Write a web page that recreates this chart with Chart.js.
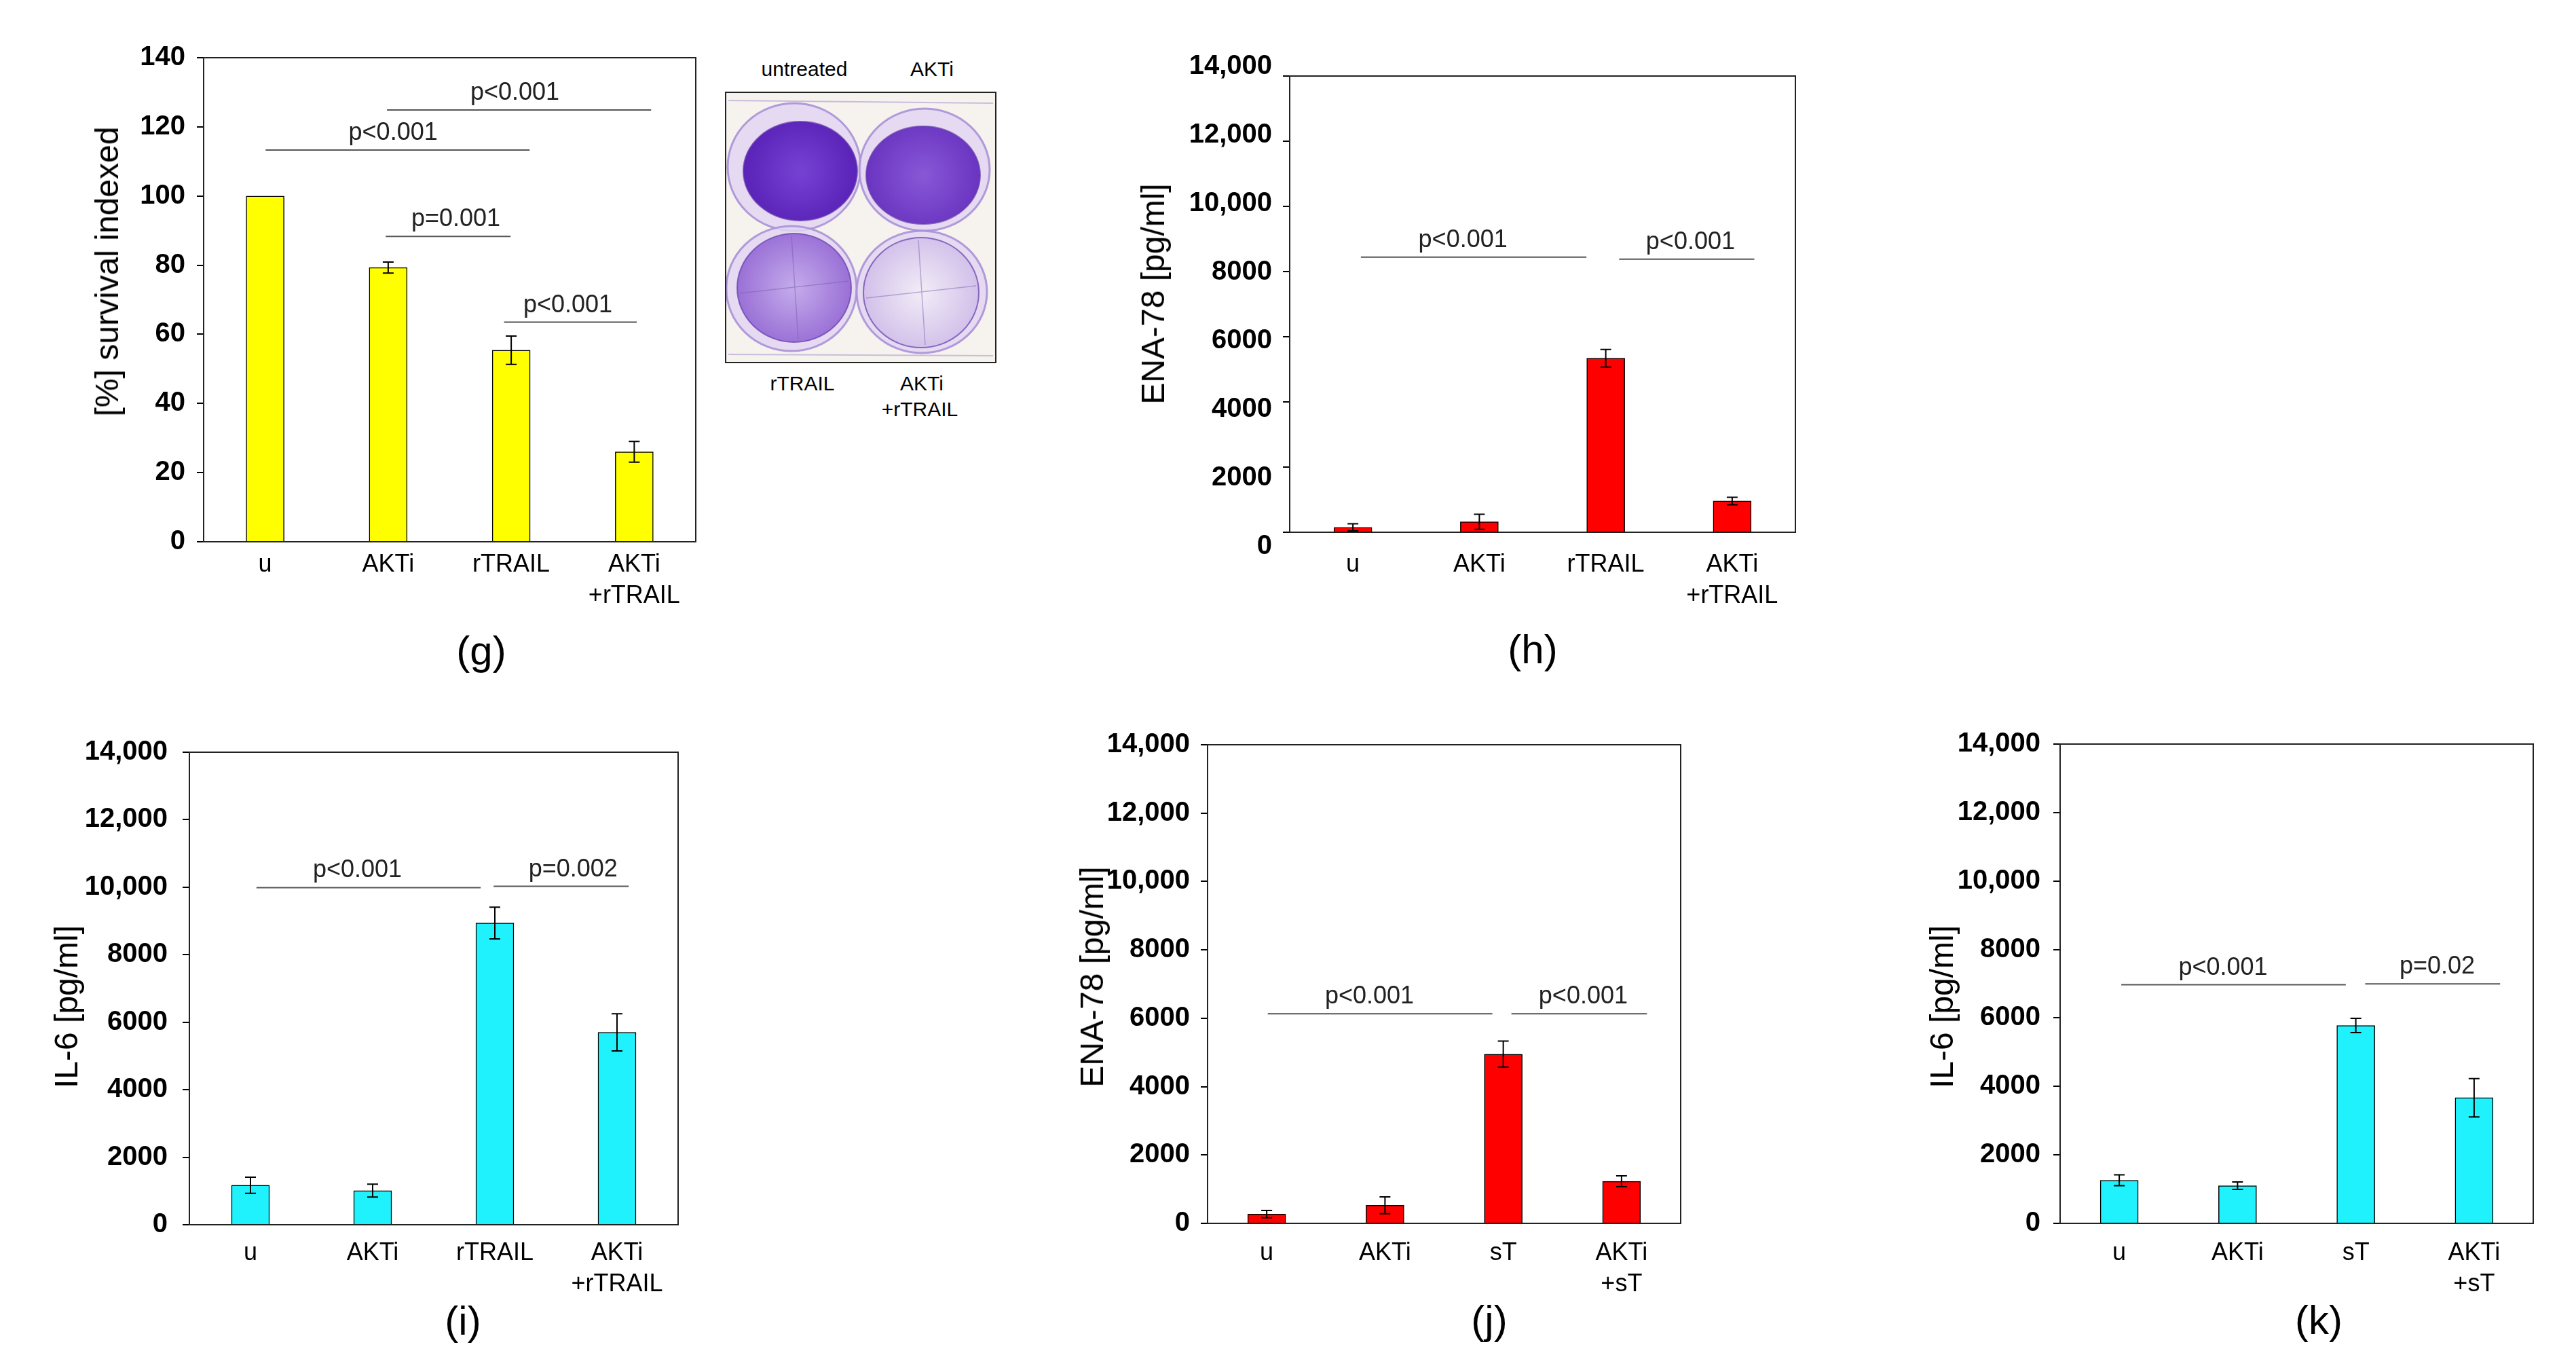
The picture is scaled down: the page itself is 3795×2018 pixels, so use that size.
<!DOCTYPE html>
<html><head><meta charset="utf-8">
<script src="https://cdn.jsdelivr.net/npm/chart.js@4.4.1/dist/chart.umd.min.js"></script>
<style>
html,body{margin:0;padding:0;background:#fff;width:3795px;height:2018px;overflow:hidden;font-family:"Liberation Sans",Arial,sans-serif;}
canvas{position:absolute;}
.txt{position:absolute;white-space:nowrap;transform:translate(-50%,-50%);color:#000;line-height:1;}
.ytitle{position:absolute;white-space:nowrap;transform:translate(-50%,-50%) rotate(-90deg);font-size:48px;line-height:1;color:#000;}
</style></head><body>
<script>
// ---------------- data ----------------
const catsTrail = ['u', 'AKTi', 'rTRAIL', ['AKTi', '+rTRAIL']];
const catsST = ['u', 'AKTi', 'sT', ['AKTi', '+sT']];

const survivalG = [100, 79.3, 55.4, 26.0];
const survivalErrG = [0, 1.6, 4.1, 3.0];

const ena78H = [150, 320, 5340, 960];
const ena78ErrH = [110, 230, 270, 115];

const il6I = [1170, 1010, 8940, 5700];
const il6ErrI = [240, 190, 470, 550];

const ena78J = [270, 530, 4950, 1230];
const ena78ErrJ = [105, 245, 380, 160];

const il6K = [1260, 1100, 5780, 3670];
const il6ErrK = [160, 110, 210, 560];

const ticksPct = [0, 20, 40, 60, 80, 100, 120, 140];
const ticksPg = [0, 2000, 4000, 6000, 8000, 10000, 12000, 14000];

// significance brackets: [from (category units), to, y value, label centre, label]
const sigG = [[0.004, 2.15, 113.3, 1.04, 'p<0.001'], [0.99, 3.137, 124.9, 2.03, 'p<0.001'],
              [0.98, 1.995, 88.3, 1.55, 'p=0.001'], [1.942, 3.02, 63.5, 2.46, 'p<0.001']];
const sigH = [[0.063, 1.847, 8443, 0.87, 'p<0.001'], [2.106, 3.175, 8380, 2.67, 'p<0.001']];
const sigI = [[0.049, 1.884, 9988, 0.875, 'p<0.001'], [1.99, 3.096, 10025, 2.64, 'p=0.002']];
const sigJ = [[0.009, 1.908, 6131, 0.869, 'p<0.001'], [2.069, 3.215, 6131, 2.676, 'p<0.001']];
const sigK = [[0.017, 1.915, 6969, 0.877, 'p<0.001'], [2.079, 3.22, 6993, 2.688, 'p=0.02']];

const yTitles = ['[%] survival indexed', 'ENA-78 [pg/ml]', 'IL-6 [pg/ml]', 'ENA-78 [pg/ml]', 'IL-6 [pg/ml]'];
const panelLetters = ['(g)', '(h)', '(i)', '(j)', '(k)'];
const plateLabels = ['untreated', 'AKTi', 'rTRAIL', 'AKTi', '+rTRAIL'];

// ---------------- layout ----------------
const FONT = '"Liberation Sans", Arial, sans-serif';
const YELLOW = '#ffff00', RED = '#ff0000', CYAN = '#1ff2fc';
const panels = [
  {L: 300, T: 85, R: 1025, B: 798, cats: catsTrail, vals: survivalG, errs: survivalErrG, color: YELLOW, max: 140, ticks: ticksPct, sig: sigG, yPad: 17, xPad: 11,
   title: [158, 400], letter: [709, 959]},
  {L: 1900, T: 112, R: 2645, B: 784, cats: catsTrail, vals: ena78H, errs: ena78ErrH, color: RED, max: 14000, ticks: ticksPg, sig: sigH, yPad: 14, xPad: 25,
   labelRange: [406, 13713], title: [1699, 433], letter: [2258, 957]},
  {L: 279, T: 1108, R: 999, B: 1804, cats: catsTrail, vals: il6I, errs: il6ErrI, color: CYAN, max: 14000, ticks: ticksPg, sig: sigI, yPad: 22, xPad: 19,
   title: [98, 1483], letter: [682, 1946]},
  {L: 1779, T: 1097, R: 2476, B: 1802, cats: catsST, vals: ena78J, errs: ena78ErrJ, color: RED, max: 14000, ticks: ticksPg, sig: sigJ, yPad: 16, xPad: 21,
   title: [1609, 1439], letter: [2194, 1945]},
  {L: 3035, T: 1096, R: 3732, B: 1802, cats: catsST, vals: il6K, errs: il6ErrK, color: CYAN, max: 14000, ticks: ticksPg, sig: sigK, yPad: 19, xPad: 21,
   title: [2861, 1483], letter: [3416, 1945]}
];

function fmtTick(v) { return v >= 10000 ? v.toLocaleString('en-US') : String(v); }

const errorBarPlugin = {
  id: 'errbars',
  afterDatasetsDraw(chart) {
    const ds = chart.data.datasets[0];
    const meta = chart.getDatasetMeta(0);
    const y = chart.scales.y, ctx = chart.ctx;
    ctx.save();
    ctx.strokeStyle = '#000'; ctx.lineWidth = 2;
    meta.data.forEach((bar, i) => {
      const e = ds.errors[i];
      if (!e) return;
      const v = ds.data[i];
      const yt = y.getPixelForValue(v + e), yb = y.getPixelForValue(v - e);
      const x = bar.x, c = 8;
      ctx.beginPath();
      ctx.moveTo(x, yt); ctx.lineTo(x, yb);
      ctx.moveTo(x - c, yt); ctx.lineTo(x + c, yt);
      ctx.moveTo(x - c, yb); ctx.lineTo(x + c, yb);
      ctx.stroke();
    });
    ctx.restore();
  }
};

const sigTextPlugin = {
  id: 'sigtext',
  afterDatasetsDraw(chart) {
    const xp = chart.scales.xp, y = chart.scales.y, ctx = chart.ctx;
    ctx.save();
    ctx.fillStyle = '#222';
    ctx.font = '36px ' + FONT;
    ctx.textAlign = 'center';
    ctx.textBaseline = 'alphabetic';
    chart.data.datasets.forEach(ds => {
      if (!ds.sigLabel) return;
      ctx.fillText(ds.sigLabel, xp.getPixelForValue(ds.labelX), y.getPixelForValue(ds.data[0].y) - 15);
    });
    ctx.restore();
  }
};

const framePlugin = {
  id: 'frame',
  afterDraw(chart) {
    const a = chart.chartArea, ctx = chart.ctx;
    ctx.save();
    ctx.strokeStyle = '#222'; ctx.lineWidth = 2;
    ctx.strokeRect(a.left, a.top, a.right - a.left, a.bottom - a.top);
    ctx.restore();
  }
};

const PADL = 200, PADT = 60, PADR = 20, XH = 150;

panels.forEach((p, idx) => {
  const cv = document.createElement('canvas');
  const w = p.R - p.L + PADL + PADR, h = p.B - p.T + PADT + XH;
  cv.width = w; cv.height = h;
  cv.style.left = (p.L - PADL) + 'px';
  cv.style.top = (p.T - PADT) + 'px';
  cv.style.width = w + 'px'; cv.style.height = h + 'px';
  document.body.appendChild(cv);

  const datasets = [{
    type: 'bar',
    data: p.vals,
    errors: p.errs,
    xAxisID: 'x', yAxisID: 'y',
    backgroundColor: p.color,
    borderColor: '#000',
    borderWidth: 1.5,
    borderSkipped: 'bottom',
    barThickness: 56,
    grouped: false
  }];
  p.sig.forEach(s => {
    datasets.push({
      type: 'line',
      data: [{x: s[0], y: s[2]}, {x: s[1], y: s[2]}],
      xAxisID: 'xp', yAxisID: 'y',
      borderColor: '#555', borderWidth: 2,
      pointRadius: 0, fill: false,
      sigLabel: s[4], labelX: s[3]
    });
  });

  const labelsOnMain = !p.labelRange;
  const scales = {
    x: {
      type: 'category', offset: true,
      grid: {display: false, drawTicks: false},
      border: {display: true, color: '#000', width: 2},
      ticks: {font: {size: 36, family: FONT, lineHeight: 1.27}, color: '#000', padding: p.xPad, maxRotation: 0, autoSkip: false},
      afterFit(s) { s.height = XH; }
    },
    xp: {type: 'linear', display: false, offset: false, grid: {offset: false}, bounds: 'data', min: -0.5, max: 3.5},
    y: {
      type: 'linear', min: 0, max: p.max,
      afterBuildTicks(s) { s.ticks = p.ticks.map(v => ({value: v})); },
      grid: {display: true, drawOnChartArea: false, drawTicks: true, tickLength: 10, color: '#000', lineWidth: 2},
      border: {display: true, color: '#000', width: 2},
      ticks: {display: labelsOnMain, font: {size: 40, weight: 'bold', family: FONT}, color: '#000', padding: p.yPad, callback: fmtTick, autoSkip: false},
      afterFit(s) { s.width = labelsOnMain ? PADL : 12; }
    }
  };
  if (!labelsOnMain) {
    scales.yl = {
      type: 'linear', position: 'left', weight: 1,
      min: p.labelRange[0], max: p.labelRange[1],
      afterBuildTicks(s) { s.ticks = p.ticks.map(v => ({value: v})); },
      grid: {display: false, drawTicks: false},
      border: {display: false},
      ticks: {font: {size: 40, weight: 'bold', family: FONT}, color: '#000', padding: p.yPad, callback: fmtTick, autoSkip: false},
      afterFit(s) { s.width = PADL - 12; }
    };
  }

  new Chart(cv, {
    type: 'bar',
    data: {labels: p.cats, datasets},
    options: {
      responsive: false, animation: false, devicePixelRatio: 1,
      layout: {padding: {left: 0, top: PADT, right: PADR, bottom: 0}},
      plugins: {legend: {display: false}, tooltip: {enabled: false}, title: {display: false}},
      scales
    },
    plugins: [errorBarPlugin, sigTextPlugin, framePlugin]
  });

  const t = document.createElement('div');
  t.className = 'ytitle';
  t.textContent = yTitles[idx];
  t.style.left = p.title[0] + 'px'; t.style.top = p.title[1] + 'px';
  document.body.appendChild(t);

  const l = document.createElement('div');
  l.className = 'txt';
  l.style.fontSize = '60px';
  l.textContent = panelLetters[idx];
  l.style.left = p.letter[0] + 'px'; l.style.top = p.letter[1] + 'px';
  document.body.appendChild(l);
});

// ---------------- stained plate photo (illustration) ----------------
(function drawPlate() {
  const ox = 1060, oy = 126, W = 420, H = 420;
  const cv = document.createElement('canvas');
  cv.width = W; cv.height = H;
  cv.style.left = ox + 'px'; cv.style.top = oy + 'px';
  document.body.appendChild(cv);
  const ctx = cv.getContext('2d');
  const bx = 1069 - ox, by = 136 - oy, bw = 398, bh = 398;
  ctx.fillStyle = '#f6f2ee';
  ctx.fillRect(bx, by, bw, bh);
  ctx.strokeStyle = 'rgba(190,175,215,0.8)'; ctx.lineWidth = 2;
  ctx.beginPath(); ctx.moveTo(bx + 4, by + 12); ctx.lineTo(bx + bw - 4, by + 16); ctx.stroke();
  ctx.beginPath(); ctx.moveTo(bx + 4, by + bh - 12); ctx.lineTo(bx + bw - 4, by + bh - 10); ctx.stroke();
  const wells = [
    {ocx: 1170, ocy: 246, orx: 98, ory: 94, icx: 1179, icy: 252, irx: 84, iry: 73, c0: '#7440d2', c1: '#5a22b8', cross: false},
    {ocx: 1362, ocy: 250, orx: 96, ory: 90, icx: 1360, icy: 258, irx: 84, iry: 72, c0: '#8656d6', c1: '#6a34c0', cross: false},
    {ocx: 1166, ocy: 425, orx: 96, ory: 92, icx: 1170, icy: 424, irx: 84, iry: 80, c0: '#c2a8ea', c1: '#9a70d6', cross: true},
    {ocx: 1358, ocy: 430, orx: 96, ory: 90, icx: 1357, icy: 431, irx: 85, iry: 81, c0: '#f0eaf6', c1: '#d2c0ea', cross: true}
  ];
  wells.forEach(wl => {
    ctx.beginPath();
    ctx.ellipse(wl.ocx - ox, wl.ocy - oy, wl.orx, wl.ory, 0, 0, Math.PI * 2);
    ctx.fillStyle = 'rgba(226,214,242,0.85)'; ctx.fill();
    ctx.strokeStyle = 'rgba(170,145,215,0.9)'; ctx.lineWidth = 3; ctx.stroke();
    const g = ctx.createRadialGradient(wl.icx - ox, wl.icy - oy, 5, wl.icx - ox, wl.icy - oy, wl.irx);
    g.addColorStop(0, wl.c0); g.addColorStop(1, wl.c1);
    ctx.beginPath();
    ctx.ellipse(wl.icx - ox, wl.icy - oy, wl.irx, wl.iry, 0, 0, Math.PI * 2);
    ctx.fillStyle = g; ctx.fill();
    ctx.strokeStyle = 'rgba(100,60,170,0.7)'; ctx.lineWidth = 2; ctx.stroke();
    if (wl.cross) {
      ctx.strokeStyle = 'rgba(120,90,170,0.45)'; ctx.lineWidth = 1.5;
      ctx.beginPath();
      ctx.moveTo(wl.icx - ox - wl.irx + 4, wl.icy - oy + 8); ctx.lineTo(wl.icx - ox + wl.irx - 4, wl.icy - oy - 10);
      ctx.moveTo(wl.icx - ox - 4, wl.icy - oy - wl.iry + 4); ctx.lineTo(wl.icx - ox + 6, wl.icy - oy + wl.iry - 4);
      ctx.stroke();
    }
  });
  ctx.strokeStyle = '#222'; ctx.lineWidth = 2;
  ctx.strokeRect(bx, by, bw, bh);

  const pos = [[1185, 102], [1373, 102], [1182, 565], [1358, 565], [1355, 603]];
  plateLabels.forEach((s, i) => {
    const d = document.createElement('div');
    d.className = 'txt';
    d.style.fontSize = '30px';
    d.textContent = s;
    d.style.left = pos[i][0] + 'px'; d.style.top = pos[i][1] + 'px';
    document.body.appendChild(d);
  });
})();
</script>
</body></html>
